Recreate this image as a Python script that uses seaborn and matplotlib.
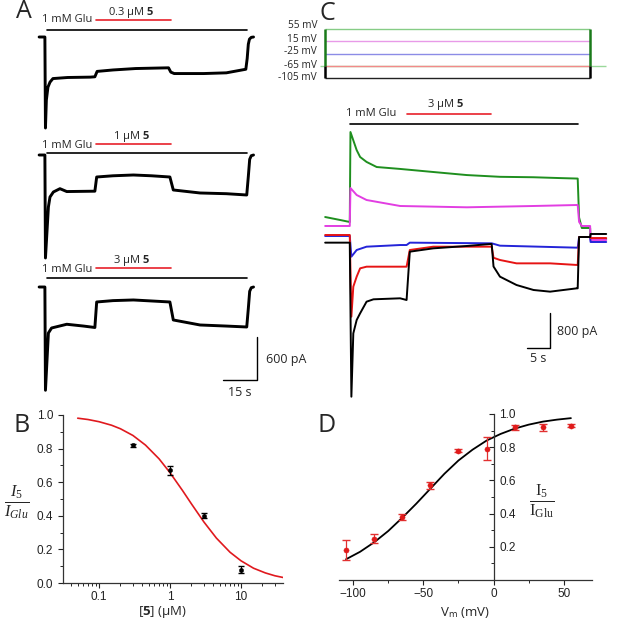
import numpy as np
import pandas as pd
import matplotlib
matplotlib.use('Agg')
import matplotlib.pyplot as plt
import seaborn as sns
from matplotlib.ticker import MultipleLocator, LogLocator, NullFormatter, FixedLocator

# ---- data ----
# panel A: whole-cell traces (time s, current pA), one per concentration of 5
a1_t = [-2.6, -0.05, 0.2, 0.6, 1.3, 2.2, 3.5, 10, 20, 22.0, 23.0, 30, 40, 54.5, 55.5, 57, 70, 80, 88.6, 89.2, 89.7, 90.2, 91.0, 92.0]
a1_i = [0, 0, -1270, -880, -700, -630, -580, -565, -560, -555, -480, -460, -440, -430, -490, -510, -510, -500, -450, -300, -100, -30, -5, 0]
a2_t = [-2.6, -0.05, 0.2, 1.5, 2.2, 3.7, 6.6, 9.6, 22.0, 22.8, 30, 39, 47, 55.1, 56.6, 68.4, 80, 89.0, 89.7, 90.3, 91.0, 92.0]
a2_i = [0, 0, -1437, -725, -586, -516, -470, -510, -505, -307, -290, -279, -290, -307, -488, -530, -540, -558, -300, -60, -10, 0]
a3_t = [-2.6, -0.05, 0.2, 1.5, 2.9, 9.6, 17, 22.0, 22.8, 30, 39, 55.1, 56.6, 68.4, 80, 89.0, 89.7, 90.3, 91.0, 92.0]
a3_i = [0, 0, -1441, -642, -572, -520, -545, -565, -209, -190, -181, -209, -460, -530, -545, -558, -300, -60, -10, 0]
a_conc = ['0.3', '1', '3']

# panel C: voltage protocol (mV) and traces at each holding step
c_levels = [55, 15, -25, -65, -105]
c_step_on, c_step_off = -5.4, 52.2
c_hold = -65

c55_t = [-5.4, -2.0, -0.05, 0.1, 0.7, 1.45, 2.2, 3.6, 5.8, 10.9, 18.1, 25.4, 32.6, 39.9, 46.0, 49.5, 49.8, 50.4, 52.2, 52.3, 55.7]
c55_i = [411, 340, 297, 2354, 2170, 1940, 1783, 1670, 1554, 1510, 1440, 1370, 1330, 1320, 1300, 1290, 400, 160, 160, -91, -91]
c15_t = [-5.4, -0.05, 0.1, 1.45, 3.6, 10.9, 25.4, 39.9, 49.5, 49.8, 50.4, 52.2, 52.3, 55.7]
c15_i = [206, 206, 1074, 914, 800, 663, 633, 663, 686, 300, 206, 206, -114, -114]
cm25_t = [-5.4, -0.05, 0.3, 1.45, 3.6, 10.9, 12.3, 13.0, 30.8, 32.6, 49.5, 49.8, 52.2, 52.3, 55.7]
cm25_i = [-23, -23, -495, -343, -267, -229, -229, -175, -190, -244, -290, -46, -46, -160, -160]
cm65_t = [-5.4, -0.05, 0.3, 0.72, 1.45, 2.2, 3.6, 12.3, 13.0, 18.1, 30.8, 31.2, 32.6, 36.2, 43.5, 49.5, 49.8, 52.2, 52.3, 55.7]
cm65_i = [0, 0, -1867, -1181, -952, -762, -724, -724, -343, -267, -267, -520, -571, -648, -648, -686, -46, -46, -69, -69]
cm105_t = [-5.4, -0.05, 0.3, 0.72, 1.45, 2.2, 3.6, 5.1, 10.9, 12.3, 13.0, 18.1, 25.4, 30.5, 30.8, 31.2, 32.6, 36.2, 39.9, 43.5, 49.3, 49.5, 49.8, 52.2, 52.3, 55.7]
cm105_i = [-175, -175, -3696, -2248, -1943, -1790, -1524, -1470, -1447, -1486, -381, -305, -251, -206, -206, -720, -952, -1143, -1257, -1295, -1219, -1219, -46, -46, 23, 23]

# panel B: concentration-response
b_conc = [0.3, 1, 3, 10]
b_ratio = [0.82, 0.67, 0.40, 0.08]
b_err = [0.01, 0.025, 0.015, 0.02]
b_fit_x = [0.05, 0.07, 0.1, 0.15, 0.2, 0.3, 0.45, 0.7, 1.0, 1.5, 2.0, 3.0, 4.5, 7.0, 10, 15, 22, 30, 40]
b_fit_y = [0.981, 0.973, 0.960, 0.939, 0.918, 0.878, 0.821, 0.739, 0.656, 0.55, 0.471, 0.363, 0.267, 0.183, 0.132, 0.088, 0.06, 0.043, 0.032]

# panel D: voltage dependence
d_vm = [-105, -85, -65, -45, -25, -5, 15, 35, 55]
d_ratio = [0.18, 0.25, 0.38, 0.57, 0.78, 0.79, 0.92, 0.92, 0.93]
d_err = [0.06, 0.025, 0.02, 0.02, 0.01, 0.07, 0.015, 0.02, 0.01]
d_fit_x = [-105, -95, -85, -75, -65, -55, -45, -35, -25, -15, -5, 5, 15, 25, 35, 45, 55]
d_fit_y = [0.125, 0.17, 0.227, 0.295, 0.375, 0.46, 0.55, 0.64, 0.72, 0.785, 0.84, 0.88, 0.912, 0.936, 0.954, 0.966, 0.975]

# ---- style ----
sns.set_theme(style='ticks')
plt.rcParams['font.family'] = ['Liberation Sans', 'DejaVu Sans']
plt.rcParams['mathtext.fontset'] = 'custom'
plt.rcParams['mathtext.rm'] = 'Liberation Serif'
plt.rcParams['mathtext.it'] = 'Liberation Serif:italic'
plt.rcParams['mathtext.bf'] = 'Open Sans:bold'
plt.rcParams['mathtext.sf'] = 'Open Sans'
ANN = ['Open Sans', 'DejaVu Sans']

W, H = 636, 622
fig = plt.figure(figsize=(W / 100, H / 100), dpi=100)


def px_axes(x0, y0, x1, y1):
    return fig.add_axes([x0 / W, 1 - y1 / H, (x1 - x0) / W, (y1 - y0) / H])


def trace_axes(rect, t0_px, base_px, px_s, px_pa):
    x0, y0, x1, y1 = rect
    ax = px_axes(x0, y0, x1, y1)
    ax.set_xlim((x0 - t0_px) / px_s, (x1 - t0_px) / px_s)
    ax.set_ylim((base_px - y1) / px_pa, (base_px - y0) / px_pa)
    ax.set_axis_off()
    return ax


# ---- panel A ----
a_traces = [(a1_t, a1_i), (a2_t, a2_i), (a3_t, a3_i)]
a_base = [37, 155, 287]
for (t, i), b in zip(a_traces, a_base):
    ax = trace_axes((28, b - 40, 292, b + 115), 45, b, 34 / 15, 43 / 600)
    sns.lineplot(x=t, y=i, ax=ax, color='black', lw=2.1, estimator=None, sort=False)

# ---- panel C ----
c_names = ['55 mV', '15 mV', '-25 mV', '-65 mV', '-105 mV']
c_data = [(c55_t, c55_i), (c15_t, c15_i), (cm25_t, cm25_i), (cm65_t, cm65_i), (cm105_t, cm105_i)]
df_c = pd.concat([pd.DataFrame({'t': t, 'I': i, 'V': n}) for n, (t, i) in zip(c_names, c_data)])
trace_pal = {'55 mV': '#1f8f1f', '15 mV': '#e23ee2', '-25 mV': '#2424d8', '-65 mV': '#e61414', '-105 mV': 'black'}
proto_pal = ['#86cc86', '#e89ae8', '#8c8ce6', '#f28a8a', '#222222']

axc = trace_axes((305, 92, 625, 405), 350, 235, 4.6, 0.04375)
sns.lineplot(data=df_c, x='t', y='I', hue='V', hue_order=c_names, palette=trace_pal,
             ax=axc, lw=1.4, estimator=None, sort=False, legend=False)
axc.set_xlabel('')
axc.set_ylabel('')

# voltage protocol, same time scale
axv = px_axes(305, 15, 625, 90)
axv.set_xlim((305 - 350) / 4.6, (625 - 350) / 4.6)
axv.set_ylim(55 - (90 - 29) / 0.30625, 55 + (29 - 15) / 0.30625)
axv.set_axis_off()
axv.hlines(c_hold, (320 - 350) / 4.6, (606 - 350) / 4.6, color='#9ad89a', lw=1.0)
axv.hlines(c_levels, c_step_on, c_step_off, colors=proto_pal, lw=1.0)
for tx in (c_step_on, c_step_off):
    axv.vlines(tx, c_hold, max(c_levels), color='#1a7a1a', lw=1.8)
    axv.vlines(tx, min(c_levels), c_hold, color='black', lw=1.8)

# ---- panel B ----
axb = px_axes(63, 415, 283, 583)
sns.lineplot(x=b_fit_x, y=b_fit_y, ax=axb, color='#e0191e', lw=1.2, estimator=None, sort=False)
axb.errorbar(b_conc, b_ratio, yerr=b_err, fmt='none', ecolor='black', elinewidth=0.8, capsize=2.5)
sns.scatterplot(x=b_conc, y=b_ratio, ax=axb, color='black', s=10, marker='o', edgecolor='black', zorder=5)
axb.set_xscale('log')
axb.set_xlim(0.031, 39)
axb.set_ylim(0, 1.0)
axb.xaxis.set_major_locator(FixedLocator([0.1, 1, 10]))
axb.set_xticklabels(['0.1', '1', '10'])
axb.xaxis.set_minor_locator(LogLocator(base=10, subs=np.arange(2, 10)))
axb.xaxis.set_minor_formatter(NullFormatter())
axb.yaxis.set_major_locator(MultipleLocator(0.2))
axb.yaxis.set_minor_locator(MultipleLocator(0.1))
axb.yaxis.set_major_formatter(matplotlib.ticker.FormatStrFormatter('%.1f'))
sns.despine(ax=axb)

# ---- panel D ----
axd = px_axes(339, 414, 592, 580)
sns.lineplot(x=d_fit_x, y=d_fit_y, ax=axd, color='black', lw=1.3, estimator=None, sort=False)
axd.errorbar(d_vm, d_ratio, yerr=d_err, fmt='none', ecolor='#e23030', elinewidth=0.9, capsize=3)
sns.scatterplot(x=d_vm, y=d_ratio, ax=axd, color='#e01a1a', s=14, marker='o', edgecolor='#e01a1a', zorder=5)
axd.set_xlim(-110, 70)
axd.set_ylim(0, 1.0)
axd.spines['top'].set_visible(False)
axd.spines['left'].set_visible(False)
axd.spines['right'].set_position(('data', 0))
axd.yaxis.tick_right()
axd.xaxis.set_major_locator(MultipleLocator(50))
axd.xaxis.set_minor_locator(MultipleLocator(25))
axd.yaxis.set_major_locator(FixedLocator([0.2, 0.4, 0.6, 0.8, 1.0]))
axd.yaxis.set_minor_locator(MultipleLocator(0.1))
axd.yaxis.set_major_formatter(matplotlib.ticker.FormatStrFormatter('%.1f'))
axd.tick_params(axis='y', which='both', direction='in', pad=4)

for ax in (axb, axd):
    for s in ax.spines.values():
        s.set_linewidth(0.9)
        s.set_color('#333333')
    ax.tick_params(which='major', length=3.5, width=0.8, labelsize=8.5, colors='#222222')
    ax.tick_params(which='minor', length=2, width=0.7)
    ax.tick_params(axis='x', pad=2)
    ax.set_xlabel('')
    ax.set_ylabel('')

# ---- overlay in pixel coordinates: bars, scale bars and labels ----
ov = fig.add_axes([0, 0, 1, 1], zorder=10)
ov.set_xlim(0, W)
ov.set_ylim(H, 0)
ov.set_axis_off()
ov.patch.set_visible(False)

red = '#e8202a'
for blk_y, red_y, txt_y, conc_y, conc in [(30, 20, 20, 12, a_conc[0]), (153, 144, 145, 136, a_conc[1]),
                                           (278, 268, 269, 260, a_conc[2])]:
    ov.plot([47, 247], [blk_y, blk_y], color='black', lw=1.2)
    ov.plot([96, 171], [red_y, red_y], color=red, lw=1.2)
    ov.text(92, txt_y, '1 mM Glu', ha='right', va='center', fontsize=8, family=ANN)
    ov.text(131, conc_y, conc + r' μM $\mathbf{5}$', ha='center', va='center', fontsize=8, family=ANN)

ov.plot([223, 257, 257], [380, 380, 337], color='black', lw=1.0)
ov.text(266, 360, '600 pA', ha='left', va='center', fontsize=9, family=ANN)
ov.text(240, 393, '15 s', ha='center', va='center', fontsize=9, family=ANN)

ov.plot([350, 578], [124, 124], color='black', lw=1.2)
ov.plot([407, 491], [114, 114], color=red, lw=1.2)
ov.text(396, 114, '1 mM Glu', ha='right', va='center', fontsize=8, family=ANN)
ov.text(445, 104, r'3 μM $\mathbf{5}$', ha='center', va='center', fontsize=8, family=ANN)
ov.plot([527, 550, 550], [348, 348, 313], color='black', lw=1.0)
ov.text(557, 331, '800 pA', ha='left', va='center', fontsize=9, family=ANN)
ov.text(538, 358, '5 s', ha='center', va='center', fontsize=9, family=ANN)

for name, y in zip(c_names, [26, 39, 52, 65, 78]):
    ov.text(317, y, name, ha='right', va='center', fontsize=7.3, family=ANN)

for letter, x, y in [('A', 24, 12), ('B', 22, 425), ('C', 327, 13), ('D', 327, 426)]:
    ov.text(x, y, letter, ha='center', va='center', fontsize=18, family=ANN)

ov.text(17, 502, r'$\frac{I_5}{I_{Glu}}$', ha='center', va='center', fontsize=17)
ov.text(163, 612, r'[$\mathbf{5}$] (μM)', ha='center', va='center', fontsize=9.5, family=ANN)
ov.text(542, 501, r'$\frac{\mathrm{I}_5}{\mathrm{I}_{\mathrm{Glu}}}$', ha='center', va='center', fontsize=17)
ov.text(465, 612, r'V$_\mathsf{m}$ (mV)', ha='center', va='center', fontsize=9.5, family=ANN)

fig.savefig('out.png', dpi=100)
